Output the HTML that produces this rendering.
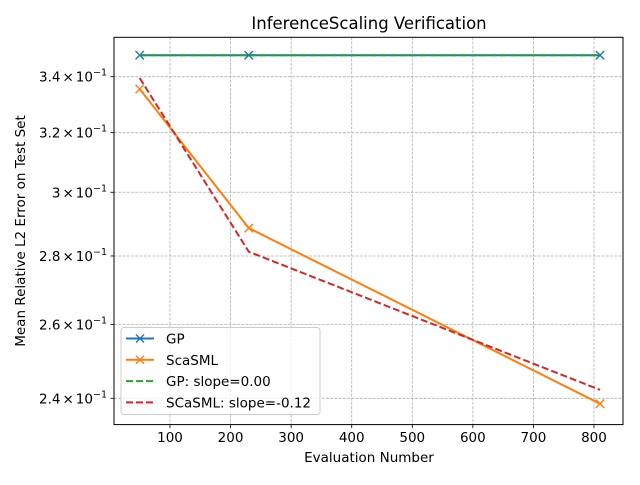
<!DOCTYPE html>
<html><head><meta charset="utf-8"><style>
body{margin:0;background:#fff;}
svg text{font-family:"DejaVu Sans","Liberation Sans",sans-serif;fill:#000;}
</style></head><body>
<svg id="chart" width="640" height="480" xmlns="http://www.w3.org/2000/svg">
<rect width="640" height="480" fill="#fff"/>
<g id="grid"></g>
<g id="series"></g>
<rect x="114" y="37.3" width="509" height="387.3" fill="none" stroke="#000" stroke-width="1"/>
<g id="axes"></g>
<text x="369" y="29" font-size="16.5" text-anchor="middle">InferenceScaling Verification</text>
<text x="369" y="462" font-size="13.5" text-anchor="middle">Evaluation Number</text>
<text transform="translate(25,231) rotate(-90)" font-size="13.5" text-anchor="middle">Mean Relative L2 Error on Test Set</text>
<g id="legend"></g>
</svg>
<script>
const evals = [50, 230, 810];
const gpErr = [0.348, 0.348, 0.348];
const scasmlErr = [0.3355, 0.2886, 0.2386];
const gpFit = [0.348, 0.348, 0.348];
const scasmlFit = [0.3395, 0.2813, 0.2422];
const xTicks = [100, 200, 300, 400, 500, 600, 700, 800];
const yTicks = [0.24, 0.26, 0.28, 0.30, 0.32, 0.34];
const yTickMant = ["2.4", "2.6", "2.8", "3", "3.2", "3.4"];
const legendLabels = ["GP", "ScaSML", "GP: slope=0.00", "SCaSML: slope=-0.12"];

const NS = "http://www.w3.org/2000/svg";
function X(v){ return 170 + (v - 100) * 0.6057; }
function Y(v){ return 76.7 - Math.log(v / 0.34) * 923.3; }
function mk(tag, attrs, parent){ const e = document.createElementNS(NS, tag); for (const k in attrs) e.setAttribute(k, attrs[k]); parent.appendChild(e); return e; }
const grid = document.getElementById('grid'), axes = document.getElementById('axes'), series = document.getElementById('series'), legend = document.getElementById('legend');

xTicks.forEach(t => {
  const x = X(t);
  const g = mk('line', {x1:x, x2:x, y1:37.3, y2:424.6, stroke:'#b0b0b0', 'stroke-width':0.8, 'stroke-dasharray':'2.96,1.28'}, grid);
  
  
  mk('line', {x1:x, x2:x, y1:424.6, y2:428.1, stroke:'#000', 'stroke-width':0.8}, axes);
  const tx = mk('text', {x:x, y:442, 'font-size':13.5, 'text-anchor':'middle'}, axes);
  tx.textContent = t;
  
  
});
yTicks.forEach((t, i) => {
  const y = Y(t);
  const g = mk('line', {x1:114, x2:623, y1:y, y2:y, stroke:'#b0b0b0', 'stroke-width':0.8, 'stroke-dasharray':'2.96,1.28'}, grid);
  
  
  mk('line', {x1:110.5, x2:114, y1:y, y2:y, stroke:'#000', 'stroke-width':0.8}, axes);
  const tx = mk('text', {x:107, y:y + 5, 'font-size':13.5, 'text-anchor':'end'}, axes);
  tx.innerHTML = yTickMant[i] + '<tspan dx="2">\u00d7</tspan><tspan dx="2">10</tspan><tspan dy="-6" font-size="9.5">\u22121</tspan>';
  
  
});

function line(xs, ys, color, dash, name){
  const p = mk('polyline', {points: xs.map((v, i) => X(v) + ',' + Y(ys[i])).join(' '), fill:'none', stroke:color, 'stroke-width':2}, series);
  if (dash) p.setAttribute('stroke-dasharray', '7,3');
  
  
}
function markers(xs, ys, color, name){
  xs.forEach((v, i) => {
    const x = X(v), y = Y(ys[i]), s = 4.2;
    const m = mk('path', {d:`M${x-s},${y-s}L${x+s},${y+s}M${x-s},${y+s}L${x+s},${y-s}`, stroke:color, 'stroke-width':1.4, fill:'none'}, series);
    
    
  });
}
line(evals, gpErr, '#1f77b4', false, 'gp-line');
markers(evals, gpErr, '#1f77b4', 'gp-marker');
line(evals, scasmlErr, '#ff7f0e', false, 'scasml-line');
markers(evals, scasmlErr, '#ff7f0e', 'scasml-marker');
line(evals, gpFit, '#2ca02c', true, 'gp-fit-line');
line(evals, scasmlFit, '#d62728', true, 'scasml-fit-line');

mk('rect', {x:121, y:327.5, width:199, height:87, rx:3, fill:'#fff', 'fill-opacity':0.8, stroke:'#cccccc', 'stroke-width':1}, legend);
const colors = ['#1f77b4', '#ff7f0e', '#2ca02c', '#d62728'];
legendLabels.forEach((lab, i) => {
  const y = 338.5 + i * 21.3;
  const l = mk('line', {x1:126, x2:154, y1:y, y2:y, stroke:colors[i], 'stroke-width':2}, legend);
  if (i >= 2) l.setAttribute('stroke-dasharray', '7,3');
  if (i < 2) mk('path', {d:`M136,${y-4}L144,${y+4}M136,${y+4}L144,${y-4}`, stroke:colors[i], 'stroke-width':1.4}, legend);
  const t = mk('text', {x:166, y:y + 5, 'font-size':13.5}, legend);
  t.textContent = lab;
  
  
});
</script>
</body></html>
